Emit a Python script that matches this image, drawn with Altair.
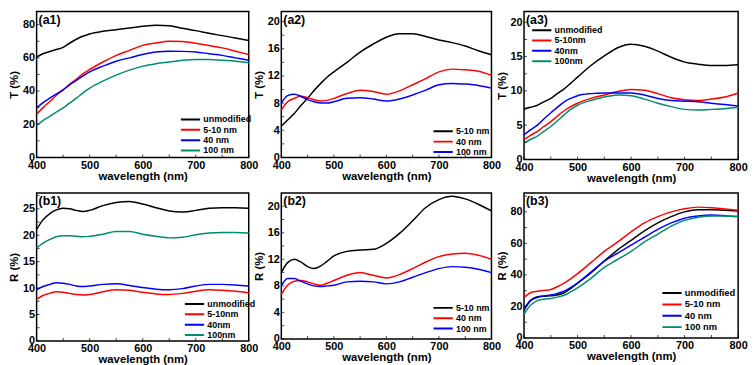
import altair as alt
import pandas as pd

# ---------------- data ----------------
WL = [400, 412, 425, 437, 450, 462, 475, 487, 500, 525, 550, 575, 600, 625, 650, 675, 700, 725, 750, 775, 800]

# (a1) transmittance
a1_unmod = [60.5, 62.5, 63.8, 65.0, 66.3, 68.8, 71.2, 73.0, 74.4, 76.0, 77.0, 78.0, 79.0, 79.7, 79.4, 77.8, 76.4, 74.8, 73.4, 72.0, 70.4]
a1_5_10 = [26.0, 30.0, 33.7, 37.3, 40.7, 44.0, 47.2, 50.3, 53.0, 57.5, 61.5, 64.5, 67.5, 69.0, 70.0, 69.8, 68.8, 67.5, 66.0, 64.0, 62.0]
a1_40 = [29.8, 33.0, 35.7, 38.2, 40.7, 43.7, 46.4, 49.0, 51.6, 55.0, 58.0, 60.0, 62.0, 63.5, 64.0, 63.9, 63.5, 62.5, 61.5, 60.0, 58.5]
a1_100 = [19.4, 22.2, 24.8, 27.3, 29.8, 32.7, 35.7, 38.8, 41.7, 46.0, 49.6, 52.6, 55.0, 56.5, 57.5, 58.5, 59.0, 59.0, 58.5, 58.0, 57.0]

# (a2) transmittance
a2_5_10 = [4.6, 5.5, 6.5, 7.6, 8.7, 9.8, 10.9, 11.8, 12.6, 14.0, 15.5, 16.7, 17.7, 18.2, 18.2, 17.8, 17.3, 16.9, 16.4, 15.7, 15.1]
a2_40 = [7.0, 8.2, 8.7, 9.0, 8.8, 8.5, 8.3, 8.4, 8.7, 9.4, 9.9, 9.7, 9.3, 9.8, 10.7, 11.6, 12.6, 13.0, 12.9, 12.7, 12.1]
a2_100 = [8.0, 9.1, 9.3, 9.0, 8.5, 8.2, 8.0, 8.0, 8.2, 8.7, 8.8, 8.6, 8.3, 8.6, 9.2, 9.9, 10.7, 10.9, 10.8, 10.6, 10.2]

# (a3) transmittance
a3_unmod = [7.3, 7.6, 7.9, 8.4, 8.9, 9.6, 10.3, 11.1, 12.0, 13.7, 15.1, 16.3, 16.8, 16.5, 15.8, 14.9, 14.2, 13.9, 13.7, 13.7, 13.8]
a3_5_10 = [2.9, 3.5, 4.1, 4.8, 5.5, 6.3, 7.1, 7.7, 8.2, 8.9, 9.4, 9.9, 10.2, 10.1, 9.6, 9.0, 8.7, 8.6, 8.8, 9.1, 9.7]
a3_40 = [3.6, 4.3, 5.0, 5.9, 6.8, 7.6, 8.4, 8.9, 9.3, 9.6, 9.7, 9.7, 9.7, 9.4, 8.9, 8.6, 8.5, 8.4, 8.2, 8.0, 7.8]
a3_100 = [2.4, 2.9, 3.4, 4.1, 4.8, 5.6, 6.5, 7.3, 7.9, 8.6, 9.1, 9.4, 9.3, 8.8, 8.2, 7.7, 7.3, 7.2, 7.3, 7.4, 7.6]

# (b1) reflectance
b1_unmod = [21.1, 22.9, 24.1, 24.8, 25.1, 25.0, 24.7, 24.5, 24.7, 25.6, 26.2, 26.4, 25.9, 25.2, 24.6, 24.4, 24.7, 25.1, 25.2, 25.2, 25.1]
b1_5_10 = [7.9, 8.6, 9.0, 9.3, 9.2, 9.0, 8.8, 8.7, 8.8, 9.3, 9.7, 9.6, 9.2, 8.9, 8.8, 9.0, 9.4, 9.7, 9.6, 9.4, 9.1]
b1_40 = [9.7, 10.3, 10.7, 11.0, 10.9, 10.7, 10.4, 10.3, 10.4, 10.7, 10.8, 10.5, 10.1, 9.8, 9.7, 9.9, 10.4, 10.7, 10.7, 10.6, 10.4]
b1_100 = [17.6, 18.5, 19.2, 19.7, 19.9, 19.9, 19.8, 19.7, 19.8, 20.2, 20.7, 20.7, 20.2, 19.8, 19.5, 19.6, 20.1, 20.4, 20.5, 20.5, 20.4]

# (b2) reflectance
b2_5_10 = [10.0, 11.5, 12.0, 11.6, 10.9, 10.6, 11.0, 11.7, 12.5, 13.2, 13.4, 13.5, 14.4, 15.9, 17.8, 19.8, 21.0, 21.5, 21.1, 20.3, 19.3]
b2_40 = [6.7, 8.1, 8.7, 8.8, 8.6, 8.3, 8.1, 8.4, 8.8, 9.6, 10.0, 9.6, 9.2, 9.7, 10.6, 11.6, 12.4, 12.8, 12.9, 12.6, 12.0]
b2_100 = [8.0, 9.1, 9.1, 8.7, 8.3, 8.0, 7.9, 8.0, 8.1, 8.6, 8.7, 8.6, 8.3, 8.6, 9.3, 10.0, 10.6, 10.9, 10.8, 10.5, 10.0]

# (b3) reflectance
b3_unmod = [17.7, 23.7, 26.1, 26.5, 26.7, 27.3, 28.7, 31.3, 34.8, 41.2, 48.8, 55.9, 61.9, 67.9, 73.0, 77.0, 80.0, 81.4, 81.4, 81.0, 80.6]
b3_5_10 = [25.7, 28.7, 29.7, 30.2, 30.8, 32.5, 34.8, 37.5, 40.8, 47.8, 54.9, 60.9, 67.3, 73.0, 77.0, 80.0, 82.0, 83.0, 82.6, 81.8, 81.0]
b3_40 = [18.7, 23.7, 25.7, 26.6, 27.3, 28.3, 29.7, 32.0, 34.8, 41.8, 48.8, 53.8, 58.9, 63.9, 68.9, 73.0, 76.0, 77.4, 78.0, 77.6, 77.0]
b3_100 = [15.1, 20.7, 23.7, 24.6, 25.1, 25.9, 27.1, 29.2, 31.8, 37.8, 44.8, 49.8, 54.9, 60.9, 65.9, 71.0, 74.6, 76.6, 77.4, 77.4, 77.0]

X_TICKS = [400, 500, 600, 700, 800]
X_MINOR = [400, 450, 500, 550, 600, 650, 700, 750, 800]

BLACK, RED, BLUE, TEAL = "#000000", "#ff0000", "#0000ff", "#008c6e"
FONT = "Liberation Sans"


def panel(label, names, series, colors, ydom, yticks, yminor, ytitle, w, h, lx, ly, lab_size=9, row_pad=0.5):
    rows = []
    for n, vals in zip(names, series):
        for x, v in zip(WL, vals):
            rows.append({"wavelength": x, "value": v, "series": n})
    df = pd.DataFrame(rows)

    x_axis = alt.Axis(values=X_TICKS, title="wavelength (nm)")
    y_axis = alt.Axis(values=yticks, title=ytitle)
    x_scale = alt.Scale(domain=[400, 800], nice=False, zero=False)
    y_scale = alt.Scale(domain=ydom, nice=False, zero=False)

    lines = alt.Chart(df).mark_line(strokeWidth=1.5, interpolate="monotone").encode(
        x=alt.X("wavelength:Q", scale=x_scale, axis=x_axis),
        y=alt.Y("value:Q", scale=y_scale, axis=y_axis),
        color=alt.Color("series:N", sort=names,
                        scale=alt.Scale(domain=names, range=colors),
                        legend=alt.Legend(orient="none", legendX=lx, legendY=ly, title=None,
                                          symbolType="stroke", symbolSize=380, symbolStrokeWidth=2,
                                          labelFont=FONT, labelFontSize=lab_size, labelFontWeight="bold",
                                          labelColor="black", clipHeight=9, rowPadding=row_pad,
                                          labelOffset=2, padding=0, symbolOffset=0)),
        detail="series:N",
    )

    xt = alt.Chart(pd.DataFrame({"wavelength": X_MINOR})).mark_tick(
        size=3, thickness=1, color="black", yOffset=-1.5
    ).encode(x=alt.X("wavelength:Q", scale=x_scale, axis=x_axis), y=alt.value(h))

    yt = alt.Chart(pd.DataFrame({"value": yminor})).mark_tick(
        size=3, thickness=1, color="black", xOffset=1.5
    ).encode(y=alt.Y("value:Q", scale=y_scale, axis=y_axis), x=alt.value(0))

    txt = alt.Chart(pd.DataFrame({"lab": [label]})).mark_text(
        align="left", baseline="middle", font=FONT, fontSize=12.5, fontWeight="bold", color="black"
    ).encode(text="lab:N", x=alt.value(2), y=alt.value(8.5))

    return alt.layer(lines, xt, yt, txt).properties(width=w, height=h)


a1 = panel("(a1)", ["unmodified", "5-10 nm", "40 nm", "100 nm"],
           [a1_unmod, a1_5_10, a1_40, a1_100], [BLACK, RED, BLUE, TEAL],
           [0, 88], [0, 20, 40, 60, 80], [0, 10, 20, 30, 40, 50, 60, 70, 80], "T (%)",
           215, 148, 145, 105)
a2 = panel("(a2)", ["5-10 nm", "40 nm", "100 nm"],
           [a2_5_10, a2_40, a2_100], [BLACK, RED, BLUE],
           [0, 21.5], [0, 4, 8, 12, 16, 20], [0, 2, 4, 6, 8, 10, 12, 14, 16, 18, 20], "T (%)",
           213, 148, 153, 117)
a3 = panel("(a3)", ["unmodified", "5-10nm", "40nm", "100nm"],
           [a3_unmod, a3_5_10, a3_40, a3_100], [BLACK, RED, BLUE, TEAL],
           [0, 21.6], [0, 5, 10, 15, 20], [0, 2.5, 5, 7.5, 10, 12.5, 15, 17.5, 20], "T (%)",
           217, 150, 7, 14.5)
b1 = panel("(b1)", ["unmodified", "5-10nm", "40nm", "100nm"],
           [b1_unmod, b1_5_10, b1_40, b1_100], [BLACK, RED, BLUE, TEAL],
           [0, 28], [0, 5, 10, 15, 20, 25], [0, 2.5, 5, 7.5, 10, 12.5, 15, 17.5, 20, 22.5, 25, 27.5], "R (%)",
           215, 150, 149, 108)
b2 = panel("(b2)", ["5-10 nm", "40 nm", "100 nm"],
           [b2_5_10, b2_40, b2_100], [BLACK, RED, BLUE],
           [0, 22], [0, 4, 8, 12, 16, 20], [0, 2, 4, 6, 8, 10, 12, 14, 16, 18, 20], "R (%)",
           213, 148, 153, 112)
b3 = panel("(b3)", ["unmodified", "5-10 nm", "40 nm", "100 nm"],
           [b3_unmod, b3_5_10, b3_40, b3_100], [BLACK, RED, BLUE, TEAL],
           [0, 92], [0, 20, 40, 60, 80], [0, 10, 20, 30, 40, 50, 60, 70, 80, 90], "R (%)",
           217, 147, 139, 97, lab_size=9.5, row_pad=1.5)

chart = alt.concat(a1, a2, a3, b1, b2, b3, columns=3).properties(
    spacing={"row": 34, "column": 33},
    bounds="flush",
    padding={"left": 0, "top": 0, "right": 0, "bottom": 0},
).resolve_scale(
    x="independent", y="independent", color="independent"
).resolve_legend(
    color="independent"
).configure_view(
    stroke="black", strokeWidth=1.5
).configure_axis(
    domain=False, ticks=False, grid=False,
    labelFont=FONT, labelFontSize=11, labelFontWeight="bold", labelColor="black",
    labelPadding=3, labelFlush=False, labelOverlap=False,
    titleFont=FONT, titleFontSize=11.5, titleFontWeight="bold", titleColor="black",
    titlePadding=1,
).configure_axisY(
    labelPadding=2, titlePadding=3
).configure_axisX(
    labelPadding=2, titlePadding=0
)

chart.save("out.html", embed_options={"renderer": "svg", "actions": False})
